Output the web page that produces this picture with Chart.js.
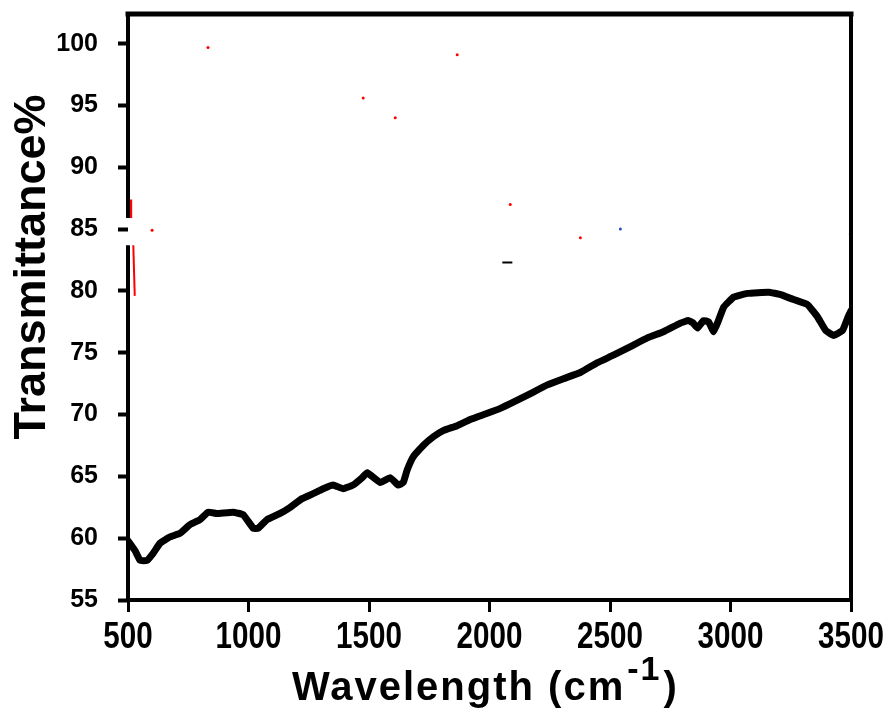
<!DOCTYPE html>
<html>
<head>
<meta charset="utf-8">
<script src="https://cdn.jsdelivr.net/npm/chart.js@4.4.1/dist/chart.umd.min.js"></script>
<style>
  html, body { margin: 0; padding: 0; background: #fff; }
  #wrap { width: 895px; height: 721px; }
</style>
</head>
<body>
<div id="wrap"><canvas id="ftir" width="895" height="721"></canvas></div>
<script>
/* ── data ── */
const wavenumber = [500, 529, 550, 578, 605, 633, 674, 716, 757, 799, 832, 868, 936, 978, 1020, 1040,
  1077, 1131, 1173, 1222, 1268, 1310, 1351, 1393, 1434, 1472, 1492, 1547, 1588, 1621, 1642, 1658,
  1684, 1725, 1767, 1808, 1866, 1920, 1991, 2045, 2099, 2170, 2240, 2307, 2377, 2448, 2514, 2585,
  2655, 2722, 2792, 2825, 2845, 2863, 2888, 2909, 2930, 2950, 2972, 3013, 3070, 3158, 3208, 3262,
  3319, 3361, 3395, 3428, 3465, 3490, 3500];
const transmittance = [59.8, 59.0, 58.2, 58.2, 58.8, 59.6, 60.1, 60.4, 61.1, 61.5, 62.1, 62.0, 62.1, 61.9, 60.8, 60.8,
  61.5, 62.0, 62.5, 63.2, 63.6, 64.0, 64.3, 64.0, 64.3, 64.9, 65.3, 64.5, 64.9, 64.3, 64.5, 65.5,
  66.6, 67.5, 68.2, 68.7, 69.1, 69.6, 70.1, 70.5, 71.0, 71.7, 72.4, 72.9, 73.4, 74.2, 74.8, 75.5,
  76.2, 76.7, 77.4, 77.6, 77.4, 77.0, 77.6, 77.5, 76.7, 77.6, 78.7, 79.5, 79.8, 79.9, 79.7, 79.3,
  78.9, 77.9, 76.8, 76.4, 76.8, 78.0, 78.4];

/* stray specks in the scanned figure */
const redSpeckX = [832, 1866, 1476, 1609, 2086, 2377, 600, 3497];
const redSpeckY = [99.7, 99.1, 95.6, 94.0, 87.0, 84.3, 84.9, 84.6];
const blueSpeckX = [2543];
const blueSpeckY = [85.0];
const darkDashX = [2074];
const darkDashY = [82.3];

const xTicks = [500, 1000, 1500, 2000, 2500, 3000, 3500];
const yTicks = [55, 60, 65, 70, 75, 80, 85, 90, 95, 100];

function zip(xs, ys){ return xs.map((x, i) => ({ x, y: ys[i] })); }

/* ── frame, condensed x labels, axis titles ── */
const framePlugin = {
  id: 'frame',
  afterDraw(chart){
    const { ctx, chartArea: a, scales } = chart;
    ctx.save();
    ctx.strokeStyle = '#000';
    ctx.lineCap = 'square';
    // top + right
    ctx.lineWidth = 5;
    ctx.beginPath(); ctx.moveTo(a.left, a.top); ctx.lineTo(a.right, a.top); ctx.stroke();
    ctx.lineWidth = 4;
    ctx.beginPath(); ctx.moveTo(a.right, a.top); ctx.lineTo(a.right, a.bottom); ctx.stroke();
    // bottom
    ctx.beginPath(); ctx.moveTo(a.left, a.bottom); ctx.lineTo(a.right, a.bottom); ctx.stroke();
    // left axis, with the small break near 85
    const gapTop = scales.y.getPixelForValue(85.9), gapBot = scales.y.getPixelForValue(83.7);
    ctx.lineCap = 'butt';
    ctx.beginPath(); ctx.moveTo(a.left, a.top - 2); ctx.lineTo(a.left, gapTop); ctx.stroke();
    ctx.beginPath(); ctx.moveTo(a.left, gapBot); ctx.lineTo(a.left, a.bottom + 2); ctx.stroke();
    ctx.restore();

    // x tick labels, narrow bold
    ctx.save();
    ctx.fillStyle = '#000';
    ctx.font = 'bold 37px "Liberation Sans", Arial, sans-serif';
    ctx.textAlign = 'center';
    ctx.textBaseline = 'alphabetic';
    xTicks.forEach(v => {
      const px = scales.x.getPixelForValue(v);
      ctx.save();
      ctx.translate(px, 648);
      ctx.scale(0.8, 1);
      ctx.fillText(String(v), 0, 0);
      ctx.restore();
    });
    ctx.restore();

    // y title
    ctx.save();
    ctx.fillStyle = '#000';
    ctx.font = 'bold 45px "Liberation Sans", Arial, sans-serif';
    ctx.textAlign = 'center';
    ctx.textBaseline = 'middle';
    ctx.translate(33, 267);
    ctx.rotate(-Math.PI / 2);
    ctx.fillText('Transmittance%', 0, 0);
    ctx.restore();

    // x title with superscript
    ctx.save();
    ctx.fillStyle = '#000';
    ctx.textBaseline = 'alphabetic';
    const big = 'bold 40px "Liberation Sans", Arial, sans-serif';
    const sup = 'bold 34px "Liberation Sans", Arial, sans-serif';
    const base = 'Wavelength (cm', exp = '-1', tail = ')';
    ctx.font = big;
    if ('letterSpacing' in ctx) ctx.letterSpacing = '2px';
    const w1 = ctx.measureText(base).width;
    ctx.font = sup;
    const w2 = ctx.measureText(exp).width;
    let x = 292;
    const y = 700;
    ctx.font = big; ctx.fillText(base, x, y); x += w1;
    ctx.font = sup; ctx.fillText(exp, x + 2, y - 20); x += w2 + 4;
    ctx.font = big; ctx.fillText(tail, x, y);
    ctx.restore();
  }
};

new Chart(document.getElementById('ftir'), {
  type: 'scatter',
  data: {
    datasets: [
      { data: zip(wavenumber, transmittance), showLine: true, borderColor: '#000', borderWidth: 7,
        pointRadius: 0, tension: 0.1, borderJoinStyle: 'round', borderCapStyle: 'round' },
      { data: zip(redSpeckX, redSpeckY), showLine: false, pointRadius: 1.5, pointBorderWidth: 0,
        backgroundColor: '#ff0000' },
      { data: zip(blueSpeckX, blueSpeckY), showLine: false, pointRadius: 1.5, pointBorderWidth: 0,
        backgroundColor: '#1f4fc0' },
      { data: zip(darkDashX, darkDashY), showLine: false, pointStyle: 'line', pointRadius: 5,
        borderColor: '#000', pointBorderWidth: 2 },
      { data: [{ x: 509, y: 87.4 }, { x: 509, y: 85.9 }], showLine: true, borderColor: '#ff0000',
        borderWidth: 4, pointRadius: 0 },
      { data: [{ x: 522, y: 83.7 }, { x: 528, y: 79.6 }], showLine: true, borderColor: '#ff0000',
        borderWidth: 2, pointRadius: 0 }
    ]
  },
  options: {
    responsive: false,
    animation: false,
    layout: { padding: { left: 0, right: 44, top: 14, bottom: 0 } },
    plugins: { legend: { display: false }, tooltip: { enabled: false } },
    scales: {
      x: {
        type: 'linear', min: 500, max: 3500,
        afterFit: s => { s.height = 121; s.paddingLeft = 0; s.paddingRight = 0; },
        afterBuildTicks: s => { s.ticks = xTicks.map(v => ({ value: v })); },
        border: { display: false },
        grid: { drawOnChartArea: false, drawTicks: true, tickLength: 12, tickWidth: 3, tickColor: '#000' },
        ticks: { display: false, autoSkip: false }
      },
      y: {
        type: 'linear', min: 55, max: 102.4,
        afterFit: s => { s.width = 128; s.paddingTop = 0; s.paddingBottom = 0; },
        afterBuildTicks: s => { s.ticks = yTicks.map(v => ({ value: v })); },
        border: { display: false },
        grid: { drawOnChartArea: false, drawTicks: true, tickLength: 10, tickWidth: 4, tickColor: '#000' },
        ticks: { color: '#000', padding: 20, autoSkip: false,
          font: { family: '"Liberation Sans", Arial, sans-serif', size: 25, weight: 'bold' } }
      }
    }
  },
  plugins: [framePlugin]
});
</script>
</body>
</html>
